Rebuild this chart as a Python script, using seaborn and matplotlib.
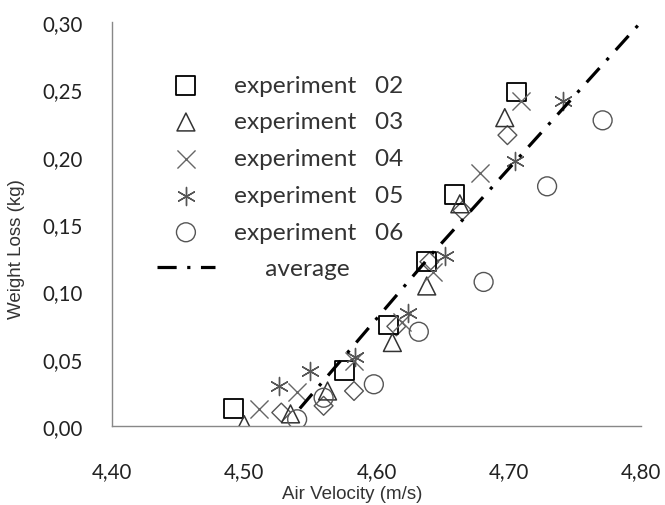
import matplotlib
matplotlib.use("Agg")
import matplotlib.pyplot as plt
import seaborn as sns
from matplotlib.ticker import FuncFormatter, MultipleLocator

# ─── Data ─────────────────────────────────────────────────────────
exp01_x = [4.528, 4.560, 4.583, 4.615, 4.640, 4.665, 4.699]
exp01_y = [0.010, 0.015, 0.026, 0.074, 0.122, 0.160, 0.216]

exp02_x = [4.492, 4.576, 4.609, 4.638, 4.659, 4.706]
exp02_y = [0.013, 0.041, 0.075, 0.122, 0.172, 0.248]

exp03_x = [4.500, 4.535, 4.563, 4.612, 4.638, 4.663, 4.697]
exp03_y = [0.001, 0.009, 0.026, 0.062, 0.104, 0.165, 0.229]

exp04_x = [4.511, 4.540, 4.583, 4.619, 4.643, 4.678, 4.709]
exp04_y = [0.013, 0.025, 0.048, 0.077, 0.114, 0.188, 0.241]

exp05_x = [4.526, 4.550, 4.584, 4.624, 4.652, 4.705, 4.741]
exp05_y = [0.030, 0.041, 0.051, 0.084, 0.126, 0.197, 0.241]

exp06_x = [4.540, 4.560, 4.598, 4.632, 4.681, 4.729, 4.771]
exp06_y = [0.005, 0.021, 0.031, 0.070, 0.107, 0.178, 0.227]

avg_x = [4.542, 4.643, 4.800]
avg_y = [0.013, 0.129, 0.300]

labels = ["experiment   02", "experiment   03", "experiment   04",
          "experiment   05", "experiment   06", "     average"]

# ─── Style ────────────────────────────────────────────────────────
sns.set_style("white")
plt.rcParams["font.family"] = ["Lato", "DejaVu Sans"]

fig = plt.figure(figsize=(6.65, 5.06), dpi=100)
ax = fig.add_axes([0.1684, 0.1561, 0.7955, 0.7984])

# hidden series (no legend entry)
sns.scatterplot(x=exp01_x, y=exp01_y, marker="D", s=92, color="#555555",
                facecolor="none", edgecolor="#555555", linewidth=1.0, ax=ax)

handles = []
sns.scatterplot(x=exp02_x, y=exp02_y, marker="s", s=185, color="#000000",
                facecolor="none", edgecolor="#000000", linewidth=1.3, ax=ax)
handles.append(ax.collections[-1])
sns.scatterplot(x=exp03_x, y=exp03_y, marker="^", s=165, color="#333333",
                facecolor="none", edgecolor="#333333", linewidth=1.1, ax=ax)
handles.append(ax.collections[-1])
sns.scatterplot(x=exp04_x, y=exp04_y, marker="x", s=170, color="#666666",
                linewidth=1.0, ax=ax)
handles.append(ax.collections[-1])
sns.scatterplot(x=exp05_x, y=exp05_y, marker=(6, 2, 0), s=170, color="#555555",
                linewidth=1.0, ax=ax)
handles.append(ax.collections[-1])
sns.scatterplot(x=exp06_x, y=exp06_y, marker="o", s=185, color="#555555",
                facecolor="none", edgecolor="#555555", linewidth=1.0, ax=ax)
handles.append(ax.collections[-1])

sns.lineplot(x=avg_x, y=avg_y, color="black", linewidth=2.3,
             linestyle=(0, (6, 3.3, 1, 3.3)), ax=ax)
handles.append(ax.lines[-1])

# ─── Axes ─────────────────────────────────────────────────────────
ax.set_xlim(4.40, 4.80)
ax.set_ylim(0.0, 0.30)
ax.xaxis.set_major_locator(MultipleLocator(0.10))
ax.yaxis.set_major_locator(MultipleLocator(0.05))
ax.xaxis.set_major_formatter(FuncFormatter(lambda v, p: f"{v:.2f}".replace(".", ",")))
ax.yaxis.set_major_formatter(FuncFormatter(lambda v, p: f"{v:.2f}".replace(".", ",")))
ax.tick_params(axis="both", length=0, labelsize=14.8, colors="#222222")
ax.tick_params(axis="x", pad=25)
ax.tick_params(axis="y", pad=21)

for side in ["top", "right"]:
    ax.spines[side].set_visible(False)
for side in ["left", "bottom"]:
    ax.spines[side].set_color("#888888")
    ax.spines[side].set_linewidth(1.0)

ax.set_xlabel("Air Velocity (m/s)", fontsize=13.5, family="Liberation Sans",
              color="#333333")
ax.set_ylabel("Weight Loss (kg)", fontsize=13.5, family="Liberation Sans",
              color="#333333")
ax.xaxis.set_label_coords(0.454, -0.145)
ax.yaxis.set_label_coords(-0.165, 0.44)

ax.legend(handles, labels, loc="upper left", bbox_to_anchor=(0.085, 0.87),
          frameon=False, fontsize=17.6, handlelength=2.37, handletextpad=0.8,
          labelspacing=0.64, borderpad=0, borderaxespad=0,
          labelcolor="#333333")

plt.savefig("out.png", dpi=100)
plt.close()
